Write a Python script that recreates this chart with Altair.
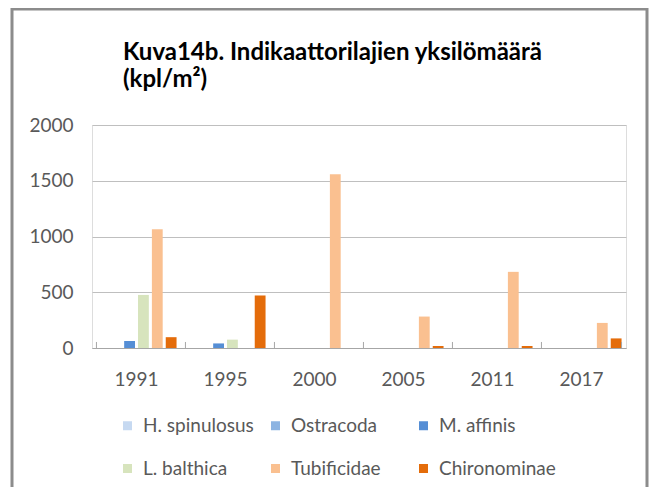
import altair as alt
import pandas as pd

years = ["1991", "1995", "2000", "2005", "2011", "2017"]
species = ["H. spinulosus", "Ostracoda", "M. affinis", "L. balthica", "Tubificidae", "Chironominae"]
colors = ["#c6d9f1", "#8db4e2", "#558ed5", "#d7e4bd", "#fac090", "#e46c0a"]

h_spinulosus = [0, 0, 0, 0, 0, 0]
ostracoda = [0, 0, 0, 0, 0, 0]
m_affinis = [63, 41, 0, 0, 0, 0]
l_balthica = [476, 75, 0, 0, 0, 0]
tubificidae = [1064, 0, 1558, 282, 683, 225]
chironominae = [97, 471, 0, 18, 18, 86]

title_lines = ["Kuva14b. Indikaattorilajien yksilömäärä", "(kpl/m²)"]

series = [h_spinulosus, ostracoda, m_affinis, l_balthica, tubificidae, chironominae]
rows = []
for sp, vals in zip(species, series):
    for yr, v in zip(years, vals):
        rows.append({"year": yr, "species": sp, "value": v})
df = pd.DataFrame(rows)

FONT = "Lato"
GRAY = "#595959"
FS = 19

xscale = alt.Scale(domain=years, paddingInner=0.1, paddingOuter=0.05)

bars = alt.Chart(df).mark_bar().encode(
    x=alt.X("year:N", scale=xscale, sort=years,
            axis=alt.Axis(title=None, labelAngle=0, ticks=False, domain=True,
                          domainColor="#a6a6a6", labelFontSize=FS, labelColor=GRAY,
                          labelFont=FONT, labelPadding=22)),
    xOffset=alt.XOffset("species:N", sort=species,
                        scale=alt.Scale(domain=species, paddingInner=0.22, paddingOuter=0)),
    y=alt.Y("value:Q", scale=alt.Scale(domain=[0, 2000]),
            axis=alt.Axis(title=None, values=[0, 500, 1000, 1500, 2000], format="d",
                          ticks=False, domain=False, grid=True, gridColor="#bfbfbf",
                          labelFontSize=FS, labelColor=GRAY, labelFont=FONT,
                          labelPadding=19)),
    color=alt.Color("species:N", sort=species,
                    scale=alt.Scale(domain=species, range=colors),
                    legend=alt.Legend(title=None, orient="none", legendX=26, legendY=291,
                                      columns=3, direction="horizontal", symbolType="square",
                                      symbolSize=81, symbolStrokeWidth=0, labelFontSize=FS,
                                      labelColor=GRAY, labelFont=FONT, labelOffset=6,
                                      columnPadding=6, rowPadding=23, gridAlign="all",
                                      labelLimit=220)),
)

tick_df = pd.DataFrame({"year": years, "y0": [0] * 6, "y1": [54] * 6})
ticks_start = alt.Chart(tick_df).mark_rule(color="#a6a6a6").encode(
    x=alt.X("year:N", scale=xscale, sort=years, bandPosition=0),
    y="y0:Q", y2="y1:Q",
)
ticks_end = alt.Chart(tick_df.tail(1)).mark_rule(color="#a6a6a6").encode(
    x=alt.X("year:N", scale=xscale, sort=years, bandPosition=1),
    y="y0:Q", y2="y1:Q",
)

frame = alt.Chart(pd.DataFrame({"a": [0]})).mark_rect(
    filled=False, stroke="#8c8c8c", strokeWidth=3
).encode(x=alt.value(-80), x2=alt.value(555), y=alt.value(-116), y2=alt.value(420))

title_df = pd.DataFrame({"line": title_lines, "ty": [-65, -38]})
title = alt.Chart(title_df).mark_text(
    align="left", baseline="alphabetic", font=FONT, fontSize=24, fontWeight="bold",
    color="#000000"
).encode(text="line:N", x=alt.value(31), y=alt.Y("ty:Q", scale=None))

chart = alt.layer(frame, bars, ticks_start, ticks_end, title).properties(
    width=534, height=223,
    autosize=alt.AutoSizeParams(type="none"),
    padding={"left": 84, "top": 117, "right": 23, "bottom": 139},
).configure_view(stroke=None).configure(background="white")

chart.save("out.html", embed_options={"renderer": "svg", "actions": False})
